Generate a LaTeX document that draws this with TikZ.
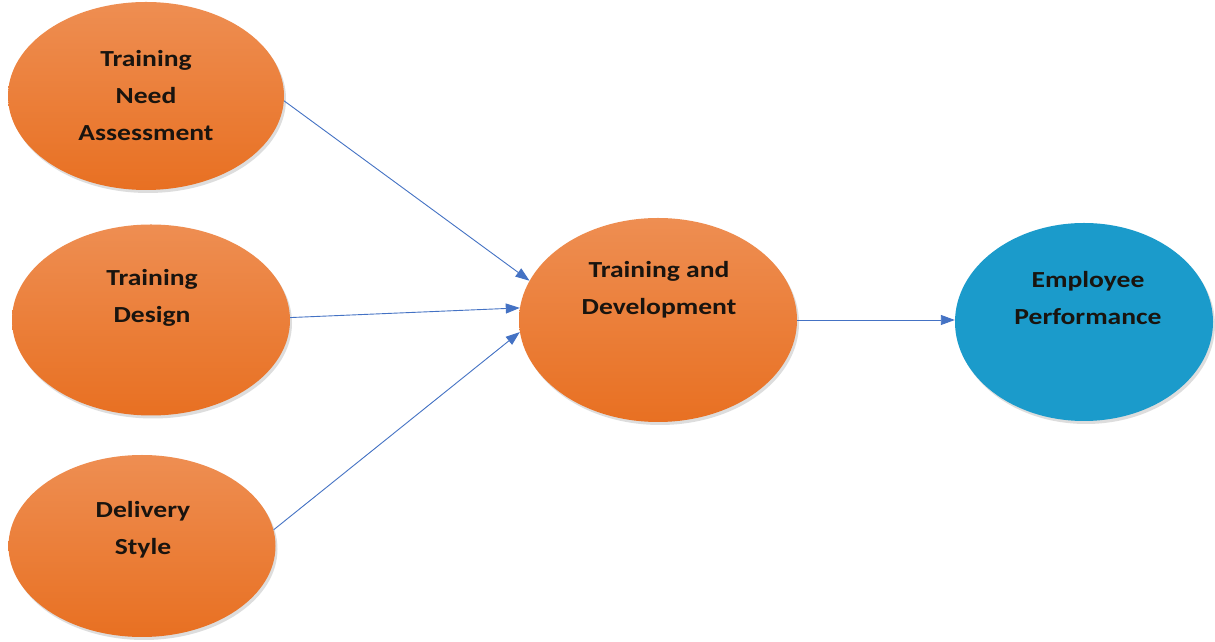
\documentclass[tikz,border=0pt]{standalone}
\usepackage{fontspec}
\newfontfamily\labfont[FakeStretch=1.2]{Carlito}
\usetikzlibrary{shapes.geometric,arrows.meta,shadows}
\definecolor{orangetop}{RGB}{238,142,82}
\definecolor{orangebot}{RGB}{232,112,34}
\definecolor{perfblue}{RGB}{27,155,203}
\definecolor{arrowblue}{RGB}{68,114,196}
\definecolor{labtext}{RGB}{25,20,15}
\tikzset{
  bubble/.style={ellipse, inner sep=0pt, draw=none,
    drop shadow={opacity=0.22, shadow xshift=2pt, shadow yshift=-3pt, fill=black!60}},
  orangebubble/.style={bubble, top color=orangetop, bottom color=orangebot},
  bluebubble/.style={bubble, fill=perfblue},
  lab/.style={align=center, text=labtext,
    font=\labfont\bfseries\fontsize{23pt}{37pt}\selectfont},
  link/.style={draw=arrowblue, line width=0.9pt,
    -{Triangle[length=14pt, width=10pt, fill=arrowblue]}}
}
\begin{document}
\begin{tikzpicture}[x=1pt, y=1pt]
  \useasboundingbox[fill=white] (0,0) rectangle (1215,642);

  % ellipses
  \node[orangebubble, minimum width=276pt, minimum height=188pt] (tna) at (146,546) {};
  \node[orangebubble, minimum width=278pt, minimum height=191pt] (tdes) at (151,322) {};
  \node[orangebubble, minimum width=267pt, minimum height=182pt] (dst) at (142,96) {};
  \node[orangebubble, minimum width=278pt, minimum height=204pt] (tdev) at (658,322) {};
  \node[bluebubble, minimum width=258pt, minimum height=198pt] (perf) at (1084,320) {};

  % labels
  \node[lab] (tnaT) at (146,546) {Training\\Need\\Assessment};
  \node[lab] (tdesT) at (152,344) {Training\\Design};
  \node[lab] (dstT) at (143,112) {Delivery\\Style};
  \node[lab] (tdevT) at (659,352) {Training and\\Development};
  \node[lab] (perfT) at (1088,344) {Employee\\Performance};

  % connectors
  \draw[link] (tna.-2) -- (tdev.163);
  \draw[link] (tdes.1.5) -- (tdev.175);
  \draw[link] (dst.7) -- (tdev.185);
  \draw[link] (tdev.east) -- (tdev.east -| perf.west);
\end{tikzpicture}
\end{document}
